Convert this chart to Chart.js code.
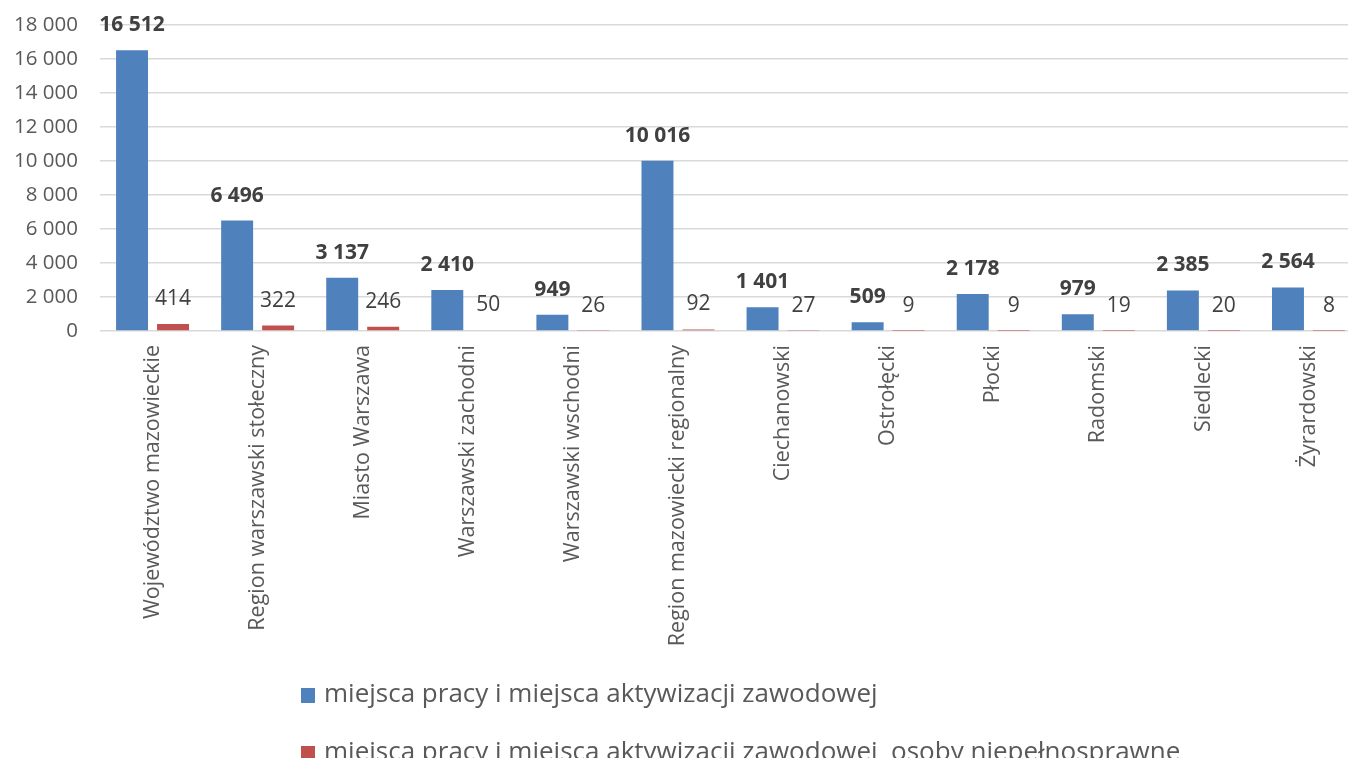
<!DOCTYPE html>
<html>
<head>
<meta charset="utf-8">
<script src="https://cdn.jsdelivr.net/npm/chart.js@4"></script>
<style>
  body { margin: 0; overflow: hidden; background: #fff; }
  #wrap { width: 1361px; height: 758px; position: relative; }
</style>
</head>
<body>
<div id="wrap"><canvas id="myChart"></canvas></div>
<script>
const categories = ['Województwo mazowieckie', 'Region warszawski stołeczny', 'Miasto Warszawa',
    'Warszawski zachodni', 'Warszawski wschodni', 'Region mazowiecki regionalny', 'Ciechanowski',
    'Ostrołęcki', 'Płocki', 'Radomski', 'Siedlecki', 'Żyrardowski']
const jobs = [16512, 6496, 3137, 2410, 949, 10016, 1401, 509, 2178, 979, 2385, 2564]
const jobsDisabled = [414, 322, 246, 50, 26, 92, 27, 9, 9, 19, 20, 8]
const seriesNames = ['miejsca pracy i miejsca aktywizacji zawodowej',
    'miejsca pracy i miejsca aktywizacji zawodowej  osoby niepełnosprawne']
const yTicks = [0, 2000, 4000, 6000, 8000, 10000, 12000, 14000, 16000, 18000]

function fmt(v) {
    return String(v).replace(/\B(?=(\d{3})+(?!\d))/g, ' ')
}

// value labels above each bar
const barLabels = {
    id: 'barLabels',
    afterDatasetsDraw(chart) {
        const ctx = chart.ctx
        ctx.save()
        ctx.fillStyle = '#404040'
        ctx.textAlign = 'center'
        ctx.textBaseline = 'middle'
        chart.data.datasets.forEach((ds, i) => {
            ctx.font = (i === 0 ? 'bold ' : '') + "21px 'Open Sans'"
            chart.getDatasetMeta(i).data.forEach((bar, j) => {
                ctx.fillText(fmt(ds.data[j]), bar.x, bar.y - 25)
            })
        })
        ctx.restore()
    }
}

// legend drawn as two left-aligned rows
const bottomLegend = {
    id: 'bottomLegend',
    afterDraw(chart) {
        const ctx = chart.ctx
        ctx.save()
        ctx.font = "26px 'Open Sans'"
        ctx.textBaseline = 'middle'
        chart.data.datasets.forEach((ds, i) => {
            let y = 695 + i * 58
            ctx.fillStyle = ds.backgroundColor
            ctx.fillRect(301, y - 7, 14, 15)
            ctx.fillStyle = '#595959'
            ctx.fillText(ds.label, 324, y)
        })
        ctx.restore()
    }
}

Chart.defaults.font.family = "'Open Sans'"

new Chart(document.getElementById('myChart'), {
    type: 'bar',
    data: {
        labels: categories,
        datasets: [
            { label: seriesNames[0], data: jobs, backgroundColor: '#4F81BD' },
            { label: seriesNames[1], data: jobsDisabled, backgroundColor: '#C0504D' }
        ]
    },
    options: {
        responsive: true,
        maintainAspectRatio: false,
        animation: false,
        categoryPercentage: 0.78,
        barPercentage: 0.78,
        layout: { padding: { top: 25, left: 0, right: 0, bottom: 0 } },
        plugins: {
            legend: { display: false },
            tooltip: { enabled: false }
        },
        scales: {
            x: {
                grid: { display: false, drawTicks: false },
                border: { display: false },
                ticks: {
                    autoSkip: false,
                    minRotation: 90,
                    maxRotation: 90,
                    padding: 14,
                    color: '#595959',
                    font: { size: 21.5 }
                },
                afterFit: s => { s.height = 427 }
            },
            y: {
                min: 0,
                max: 18000,
                afterBuildTicks: s => { s.ticks = yTicks.map(v => ({ value: v })) },
                grid: { color: '#d9d9d9', lineWidth: 1.5, drawTicks: false },
                border: { display: false },
                ticks: {
                    padding: 22,
                    color: '#595959',
                    font: { size: 20.5 },
                    callback: v => fmt(v)
                },
                afterFit: s => {
                    s.width = 100
                    s.paddingTop = 0
                    s.paddingBottom = 0
                }
            }
        }
    },
    plugins: [barLabels, bottomLegend]
})
</script>
</body>
</html>
